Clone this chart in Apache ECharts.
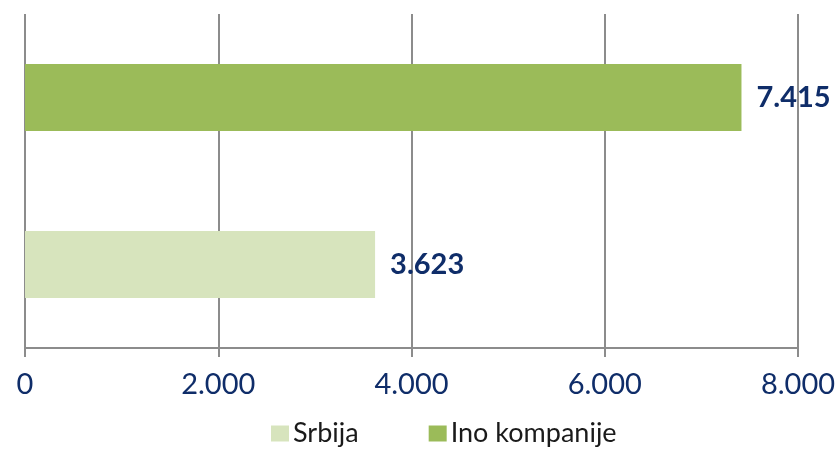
<!DOCTYPE html>
<html>
<head>
<meta charset="utf-8">
<script src="https://cdn.jsdelivr.net/npm/echarts@6/dist/echarts.min.js"></script>
<style>
  html, body { margin: 0; padding: 0; background: #fff; }
  #chart { width: 837px; height: 453px; }
</style>
</head>
<body>
<div id="chart"></div>
<script>
var seriesNames = ['Srbija', 'Ino kompanije'];
var srbijaValues = [3623];
var inoValues = [7415];
var seriesColors = ['#D7E4BD', '#9BBB59'];
var axisMin = 0, axisMax = 8000, axisStep = 2000;

var fontName = 'Lato';
var navy = '#0F2D69';

function fmt(v) {
    // dot as thousands separator
    return String(v).replace(/\B(?=(\d{3})+(?!\d))/g, '.');
}

var myChart = echarts.init(document.getElementById('chart'));

var barLabel = {
    show: true,
    position: 'right',
    distance: 15,
    color: navy,
    fontFamily: fontName,
    fontWeight: 'bold',
    fontSize: 29,
    formatter: function (p) { return fmt(p.value); }
};

var option = {
    animation: false,
    grid: { left: 25, right: 39, top: 14, bottom: 105, outerBoundsMode: 'none' },
    legend: {
        data: seriesNames,
        bottom: 1,
        left: 266,
        itemWidth: 18,
        itemHeight: 16,
        itemGap: 70,
        icon: 'rect',
        textStyle: { fontFamily: fontName, fontSize: 27, color: '#1a1a1a', padding: [0, 0, 0, -1] }
    },
    xAxis: {
        type: 'value',
        min: axisMin,
        max: axisMax,
        interval: axisStep,
        axisLine: { show: true, lineStyle: { color: '#8c8c8c', width: 2 } },
        axisTick: { show: true, length: 9, lineStyle: { color: '#8c8c8c', width: 2 } },
        splitLine: { show: true, lineStyle: { color: '#8c8c8c', width: 2 } },
        axisLabel: {
            margin: 22,
            color: navy,
            fontFamily: fontName,
            fontSize: 29,
            formatter: function (v) { return fmt(v); }
        }
    },
    yAxis: {
        type: 'category',
        data: [''],
        axisLine: { show: false },
        axisTick: { show: false },
        axisLabel: { show: false }
    },
    // first series is drawn at the top here, so Ino kompanije goes first
    series: [
        {
            name: seriesNames[1],
            type: 'bar',
            data: inoValues,
            itemStyle: { color: seriesColors[1] },
            barWidth: 67,
            barGap: '149%',
            label: barLabel,
            z: 3
        },
        {
            name: seriesNames[0],
            type: 'bar',
            data: srbijaValues,
            itemStyle: { color: seriesColors[0] },
            barWidth: 67,
            barGap: '149%',
            label: barLabel,
            z: 3
        }
    ]
};

myChart.setOption(option);
</script>
</body>
</html>
